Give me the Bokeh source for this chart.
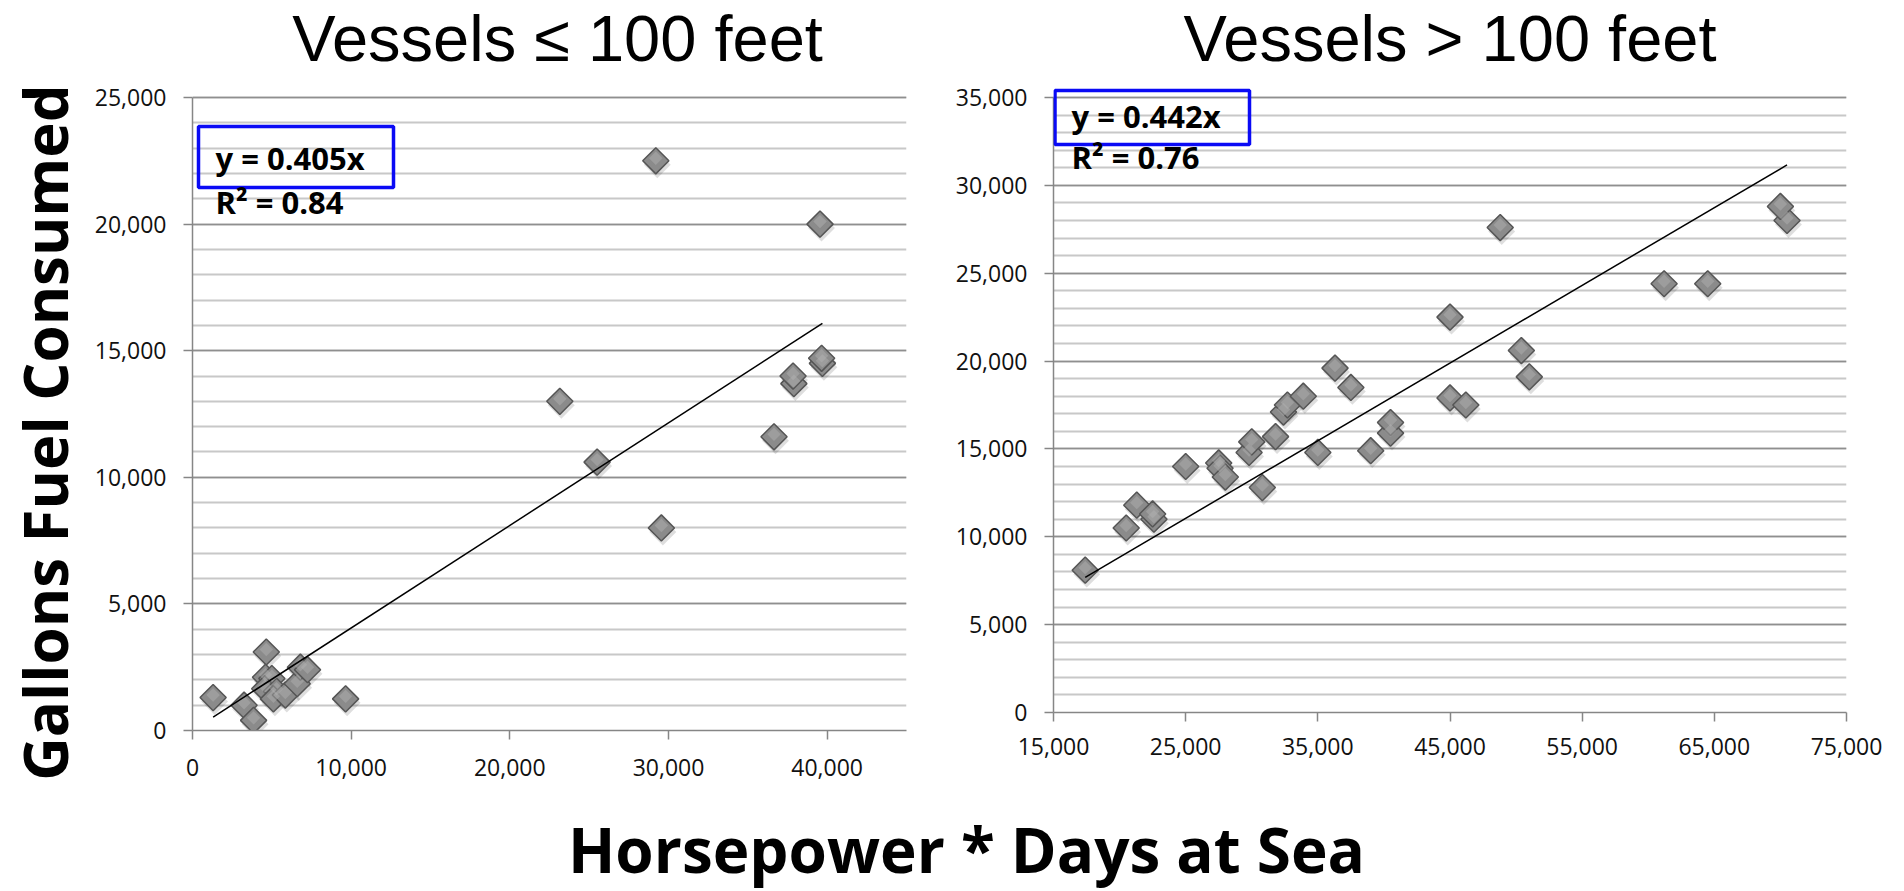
import math
from bokeh.plotting import figure
from bokeh.layouts import row, column
from bokeh.models import (Range1d, SingleIntervalTicker, FixedTicker,
                          NumeralTickFormatter, Label, BoxAnnotation)
from bokeh.embed import file_html
from bokeh.resources import INLINE

# ---------------- data ----------------
small_title = "Vessels ≤ 100 feet"
large_title = "Vessels > 100 feet"
y_axis_title = "Gallons Fuel Consumed"
x_axis_title = "Horsepower * Days at Sea"

small_hp_days = [1300, 3250, 3850, 4650, 4600, 5000, 4550, 5300, 5100, 5850,
                 6600, 6800, 7250, 9650, 23150, 25500, 29550, 29200, 36650,
                 37900, 37850, 39550, 39700, 39650]
small_gallons = [1300, 1000, 400, 3100, 2100, 2050, 1650, 1550, 1250, 1400,
                 1850, 2500, 2400, 1250, 13000, 10600, 8000, 22500, 11600,
                 13700, 14000, 20000, 14500, 14700]
small_slope = 0.405
small_eq = "y = 0.405x"
small_r2 = "R² = 0.84"
small_xmax, small_ymax = 45000, 25000

large_hp_days = [17400, 20500, 21300, 22600, 22500, 25000, 27500, 27600, 28000,
                 29800, 30000, 30800, 31800, 32400, 32700, 33900, 35000, 36300,
                 37500, 39000, 40500, 40500, 45000, 45000, 46200, 48800, 50400,
                 51000, 61200, 64500, 70500, 70000]
large_gallons = [8100, 10500, 11800, 11000, 11300, 14000, 14200, 13900, 13400,
                 14800, 15400, 12800, 15700, 17100, 17500, 18000, 14800, 19600,
                 18500, 14900, 15900, 16500, 22500, 17900, 17500, 27600, 20600,
                 19100, 24400, 24400, 28000, 28800]
large_slope = 0.442
large_eq = "y = 0.442x"
large_r2 = "R² = 0.76"
large_xmin, large_xmax, large_ymax = 15000, 75000, 35000

small_xticks = [0, 10000, 20000, 30000, 40000]
large_xticks = [15000, 25000, 35000, 45000, 55000, 65000, 75000]

# ---------------- styles / layout ----------------
FONT = "Open Sans"
TITLE_FONT = "Liberation Sans"
ROW_H = 790
AXIS_COLOR = "#868686"
MAJOR_GRID = "#8f8f8f"
MINOR_GRID = "#c8c8c8"
MARK_FILL = "#8b8b8b"
MARK_LINE = "#555555"
BOX_BLUE = "#0a0af5"
TXT = "#000000"

YL_W = 90            # column holding the vertical axis title
L_W, R_W = 855, 951
L_FRAME_BOTTOM, R_FRAME_BOTTOM = 730, 712   # px from top of the row
PLOT_TOP = 97                                # px where the top gridline sits


def make_fig(width, b_left, b_right, frame_bottom, xr, ymax, xticks,
             xlabel_standoff):
    # the frame reaches the top of the canvas so that the titles and the
    # regression boxes are drawn inside it; axis/grid are bounded to the data
    y_end = ymax * frame_bottom / (frame_bottom - PLOT_TOP)
    p = figure(width=width, height=ROW_H, x_range=Range1d(*xr),
               y_range=Range1d(0, y_end), output_backend="svg",
               toolbar_location=None, min_border=0, title_location=None)
    p.frame_align = False
    p.min_border_left = b_left
    p.min_border_right = b_right
    p.min_border_top = 0
    p.min_border_bottom = ROW_H - frame_bottom
    p.outline_line_color = None
    p.background_fill_color = "white"
    p.border_fill_color = "white"

    yt = SingleIntervalTicker(interval=5000, num_minor_ticks=5)
    p.yaxis[0].ticker = yt
    p.ygrid[0].ticker = yt
    p.yaxis[0].bounds = (0, ymax)
    p.ygrid[0].bounds = (0, ymax)
    p.xaxis[0].ticker = FixedTicker(ticks=xticks)
    p.xgrid.grid_line_color = None
    p.ygrid.grid_line_color = MAJOR_GRID
    p.ygrid.grid_line_width = 1.5
    p.ygrid.minor_grid_line_color = MINOR_GRID
    p.ygrid.minor_grid_line_width = 2

    for ax in (p.xaxis[0], p.yaxis[0]):
        ax.axis_line_color = AXIS_COLOR
        ax.axis_line_width = 1.5
        ax.major_tick_line_color = AXIS_COLOR
        ax.major_tick_line_width = 1.5
        ax.major_tick_in = 0
        ax.major_tick_out = 9
        ax.minor_tick_line_color = None
        ax.major_label_text_font = FONT
        ax.major_label_text_font_size = "23px"
        ax.major_label_text_color = "#111111"
        ax.formatter = NumeralTickFormatter(format="0,0")
    p.yaxis[0].major_label_standoff = 17
    p.xaxis[0].major_label_standoff = xlabel_standoff
    return p


def add_points(p, xs, ys, slope, frame_w, frame_h):
    xr, yr = p.x_range, p.y_range
    ux = (xr.end - xr.start) / frame_w
    uy = (yr.end - yr.start) / frame_h
    p.scatter([x + 1.5 * ux for x in xs], [y - 4 * uy for y in ys],
              marker="square", angle=math.pi / 4, size=19,
              fill_color="#000000", fill_alpha=0.13, line_color=None)
    p.scatter(xs, ys, marker="square", angle=math.pi / 4, size=18.5,
              fill_color=MARK_FILL, line_color=MARK_LINE, line_width=1.5)
    p.scatter(xs, [y + 2.5 * uy for y in ys], marker="square",
              angle=math.pi / 4, size=9.5, fill_color="#b4b4b4",
              fill_alpha=0.45, line_color=None)
    x0, x1 = min(xs), max(xs)
    p.line([x0, x1], [slope * x0, slope * x1], line_color="black",
           line_width=1.5)


def text_label(p, x, y, text, size, dx=0, dy=0, bold=False, align="left",
               font=FONT):
    p.add_layout(Label(x=x, y=y, x_offset=dx, y_offset=dy, text=text,
                       text_font=font, text_font_size=size,
                       text_font_style="bold" if bold else "normal",
                       text_color=TXT, text_align=align,
                       text_baseline="alphabetic"))


def px_to_data(p, frame_w, frame_h, dx_px, dy_px):
    ux = (p.x_range.end - p.x_range.start) / frame_w
    uy = (p.y_range.end - p.y_range.start) / frame_h
    return dx_px * ux, dy_px * uy


# ---------------- vertical axis title ----------------
ylab = figure(width=YL_W, height=ROW_H, x_range=Range1d(0, YL_W),
              y_range=Range1d(0, ROW_H), output_backend="svg",
              toolbar_location=None, min_border=0, title_location=None,
              x_axis_location=None, y_axis_location=None)
ylab.frame_align = False
ylab.outline_line_color = None
ylab.xgrid.grid_line_color = None
ylab.ygrid.grid_line_color = None
ylab.add_layout(Label(x=44, y=ROW_H - 432, text=y_axis_title,
                      angle=math.pi / 2, text_font=FONT,
                      text_font_style="bold", text_font_size="60px",
                      text_color=TXT, text_align="center",
                      text_baseline="middle"))

# ---------------- left chart ----------------
lb_left, lb_right = 192 - YL_W, YL_W + L_W - 906
left = make_fig(L_W, lb_left, lb_right, L_FRAME_BOTTOM, (0, small_xmax),
                small_ymax, small_xticks, 19)
lfw, lfh = L_W - lb_left - lb_right, L_FRAME_BOTTOM
add_points(left, small_hp_days, small_gallons, small_slope, lfw, lfh)
bx0, _ = px_to_data(left, lfw, lfh, 6, 0)
bx1, _ = px_to_data(left, lfw, lfh, 201, 0)
_, by0 = px_to_data(left, lfw, lfh, 0, 730 - 187)
_, by1 = px_to_data(left, lfw, lfh, 0, 730 - 126)
left.add_layout(BoxAnnotation(left=bx0, right=bx1, bottom=by0, top=by1,
                              fill_alpha=0, line_color=BOX_BLUE,
                              line_alpha=1, line_width=3.5))
text_label(left, 0, small_ymax, small_eq, "31px", dx=23, dy=-60, bold=True)
text_label(left, 0, small_ymax, small_r2, "31px", dx=23, dy=-104, bold=True)
text_label(left, small_xmax / 2, small_ymax, small_title, "65px", dx=8,
           dy=59, align="center", font=TITLE_FONT)

# ---------------- right chart ----------------
rb_left = 1053 - (YL_W + L_W)
rb_right = YL_W + L_W + R_W - 1846
right = make_fig(R_W, rb_left, rb_right, R_FRAME_BOTTOM,
                 (large_xmin, large_xmax), large_ymax, large_xticks, 16)
rfw, rfh = R_W - rb_left - rb_right, R_FRAME_BOTTOM
add_points(right, large_hp_days, large_gallons, large_slope, rfw, rfh)
bx0, _ = px_to_data(right, rfw, rfh, 1.5, 0)
bx1, _ = px_to_data(right, rfw, rfh, 196, 0)
_, by0 = px_to_data(right, rfw, rfh, 0, 712 - 144)
_, by1 = px_to_data(right, rfw, rfh, 0, 712 - 90)
right.add_layout(BoxAnnotation(left=large_xmin + bx0, right=large_xmin + bx1,
                               bottom=by0, top=by1, fill_alpha=0,
                               line_color=BOX_BLUE, line_alpha=1,
                               line_width=3.5))
text_label(right, large_xmin, large_ymax, large_eq, "31px", dx=18, dy=-18,
           bold=True)
text_label(right, large_xmin, large_ymax, large_r2, "31px", dx=18, dy=-59,
           bold=True)
text_label(right, (large_xmin + large_xmax) / 2, large_ymax, large_title,
           "65px", dy=59, align="center", font=TITLE_FONT)

# ---------------- shared horizontal axis title ----------------
TOTAL_W = YL_W + L_W + R_W
BOT_H = 100
bottom = figure(width=TOTAL_W, height=BOT_H, x_range=Range1d(0, TOTAL_W),
                y_range=Range1d(0, BOT_H), output_backend="svg",
                toolbar_location=None, min_border=0, title_location=None,
                x_axis_location=None, y_axis_location=None)
bottom.outline_line_color = None
bottom.xgrid.grid_line_color = None
bottom.ygrid.grid_line_color = None
bottom.add_layout(Label(x=966, y=42, text=x_axis_title, text_font=FONT,
                        text_font_style="bold", text_font_size="62px",
                        text_color=TXT, text_align="center",
                        text_baseline="alphabetic"))

layout = column(row(ylab, left, right), bottom)
open("out.html", "w").write(file_html(layout, INLINE))
